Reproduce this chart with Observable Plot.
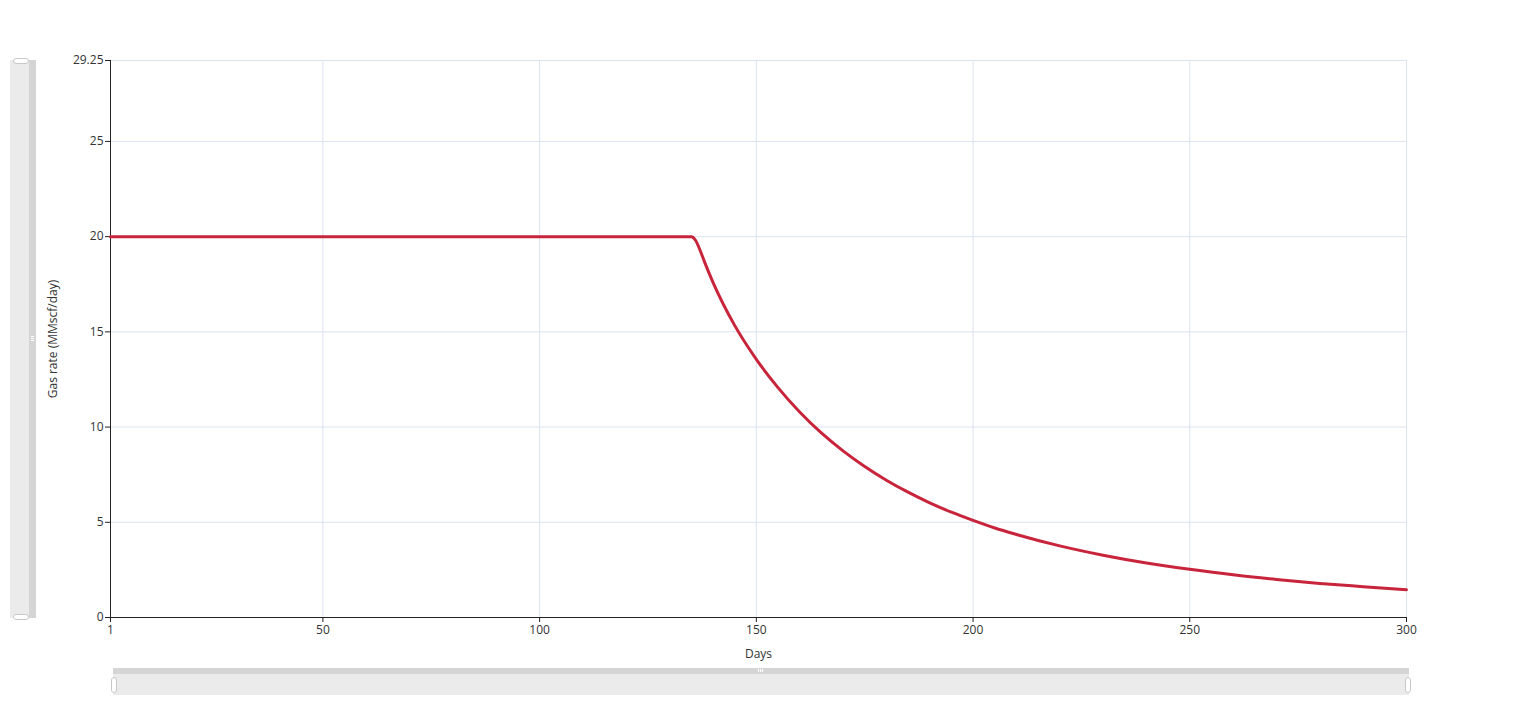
<!DOCTYPE html>
<html>
<head>
<meta charset="utf-8">
<script src="https://cdn.jsdelivr.net/npm/d3@7"></script>
<script src="https://cdn.jsdelivr.net/npm/@observablehq/plot@0.6"></script>
<style>
  html, body { margin: 0; padding: 0; background: #fff; }
  #wrap { position: relative; width: 1516px; height: 718px; overflow: hidden; }
  .slot { position: absolute; }
</style>
</head>
<body>
<div id="wrap"></div>
<script>
// Data
const days  = [1, 135, 136, 137, 138, 140, 145, 150, 155, 160, 165, 170, 175, 180, 185, 190, 195, 200, 205, 210, 220, 230, 240, 250, 260, 270, 280, 290, 300];
const rates = [20, 20, 19.8, 19.3, 18.7, 17.6, 15.34, 13.56, 12.07, 10.79, 9.69, 8.75, 7.93, 7.21, 6.58, 6.02, 5.53, 5.10, 4.70, 4.36, 3.76, 3.27, 2.86, 2.53, 2.24, 2.00, 1.79, 1.62, 1.46];
const xTicks = [1, 50, 100, 150, 200, 250, 300];
const yTicks = [0, 5, 10, 15, 20, 25, 29.25];
const xLabel = "Days";
const yLabel = "Gas rate (MMscf/day)";

const data = days.map((d, i) => ({day: d, rate: rates[i]}));

const chart = Plot.plot({
  width: 1516,
  height: 718,
  marginLeft: 110,
  marginRight: 110,
  marginTop: 60,
  marginBottom: 101,
  style: {fontFamily: "'Open Sans', 'DejaVu Sans', sans-serif", fontSize: "12px", color: "#333", background: "#fff"},
  x: {domain: [1, 300]},
  y: {domain: [0, 29.25]},
  marks: [
    Plot.gridX(xTicks, {stroke: "#dbe3f0", strokeOpacity: 1}),
    Plot.gridY(yTicks, {stroke: "#dbe3f0", strokeOpacity: 1}),
    Plot.axisX({ticks: xTicks, tickSize: 5, tickPadding: 3, tickFormat: d => String(d),
      label: xLabel, labelAnchor: "center", labelArrow: "none", labelOffset: 40, stroke: "#222"}),
    Plot.axisY({ticks: yTicks, tickSize: 5, tickPadding: 2, tickFormat: d => String(d),
      label: yLabel, labelAnchor: "center", labelArrow: "none", labelOffset: 62, stroke: "#222"}),
    Plot.ruleX([1], {stroke: "#222"}),
    Plot.ruleY([0], {stroke: "#222"}),
    Plot.line(data, {x: "day", y: "rate", stroke: "#c8243b", strokeWidth: 3, curve: "monotone-x"})
  ]
});
const wrap = document.getElementById("wrap");
chart.style.position = "absolute";
chart.style.left = "0px";
chart.style.top = "0px";
wrap.appendChild(chart);

function box(l, t, w, h, css) {
  const d = document.createElement("div");
  d.className = "slot";
  d.style.left = l + "px"; d.style.top = t + "px";
  d.style.width = w + "px"; d.style.height = h + "px";
  Object.assign(d.style, css || {});
  wrap.appendChild(d);
  return d;
}
// vertical zoom slider (left)
box(10, 60, 19, 558, {background: "#ebebeb"});
box(29, 60, 7, 558, {background: "#d5d5d5"});
box(13, 58, 14, 4, {background: "#fff", border: "1px solid #c9c9c9", borderRadius: "3px"});
box(13, 614, 14, 4, {background: "#fff", border: "1px solid #c9c9c9", borderRadius: "3px"});
box(31, 336, 3, 1, {background: "#fff"});
box(31, 338, 3, 1, {background: "#fff"});
box(31, 340, 3, 1, {background: "#fff"});
// horizontal zoom slider (bottom)
box(113, 668, 1296, 6, {background: "#d5d5d5"});
box(113, 674, 1296, 21, {background: "#ebebeb"});
box(111, 677, 4, 14, {background: "#fff", border: "1px solid #c9c9c9", borderRadius: "3px"});
box(1405, 677, 4, 14, {background: "#fff", border: "1px solid #c9c9c9", borderRadius: "3px"});
box(758, 669, 1, 3, {background: "#fff"});
box(760, 669, 1, 3, {background: "#fff"});
box(762, 669, 1, 3, {background: "#fff"});
</script>
</body>
</html>
